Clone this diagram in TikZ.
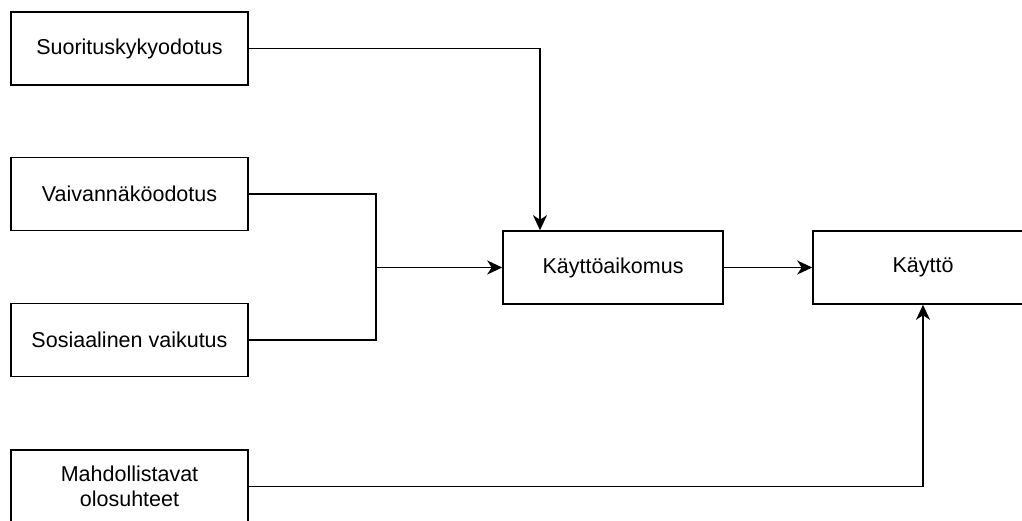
\documentclass[tikz,border=0pt]{standalone}
\usepackage{fontspec}
\setmainfont{Liberation Sans}
\usetikzlibrary{arrows.meta}
\begin{document}
\begin{tikzpicture}[x=1pt,y=-1pt,
  box/.style={draw=black, line width=1.6pt, minimum width=237pt, minimum height=73pt, inner sep=0pt, align=center, font=\fontsize{21.5}{24.5}\selectfont, fill=white},
  conn/.style={line width=1.6pt},
  arr/.style={conn,-{Stealth[length=15pt,width=14pt,inset=4.5pt]}}]
\useasboundingbox (0,0) rectangle (1022,520);
\node[box] (s) at (129.5,48.5) {Suorituskykyodotus};
\node[box] (v) at (129.5,194) {Vaivannäköodotus};
\node[box] (so) at (129.5,340) {Sosiaalinen vaikutus};
\node[box] (m) at (129.5,486.5) {Mahdollistavat\\olosuhteet};
\node[box, minimum width=220pt] (ka) at (613,267.5) {Käyttöaikomus};
\node[box, minimum width=220pt] (k) at (923,267.5) {Käyttö};
\coordinate (j) at (376,267.5);
\draw[conn] (v.east) -| (j);
\draw[conn] (so.east) -| (j);
\draw[arr] (j) -- (ka.west);
\draw[arr] (s.east) -| ([xshift=-73pt]ka.north);
\draw[arr] (ka) -- (k);
\draw[arr] (m.east) -| (k.south);
\end{tikzpicture}
\end{document}
